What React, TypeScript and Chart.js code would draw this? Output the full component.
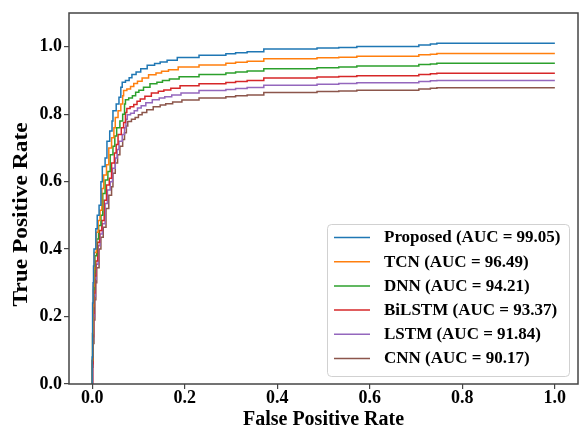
import React, { useEffect, useRef } from 'react';
import { Chart, registerables } from 'chart.js';

Chart.register(...registerables);

const seriesLabels = [
  'Proposed (AUC = 99.05)',
  'TCN (AUC = 96.49)',
  'DNN (AUC = 94.21)',
  'BiLSTM (AUC = 93.37)',
  'LSTM (AUC = 91.84)',
  'CNN (AUC = 90.17)',
];

const seriesColors = ['#1f77b4', '#ff7f0e', '#2ca02c', '#d62728', '#9467bd', '#8c564b'];

const xTicks = [0, 0.2, 0.4, 0.6, 0.8, 1.0];
const yTicks = [0, 0.2, 0.4, 0.6, 0.8, 1.0];

// [FPR, TPR] corner points of each ROC staircase
const proposed: number[][] = [
  [0, 0], [0.0, 0.08], [0.001, 0.16], [0.001, 0.24], [0.002, 0.3], [0.003, 0.35], [0.004, 0.4],
  [0.008, 0.46], [0.011, 0.5], [0.015, 0.53], [0.019, 0.6], [0.022, 0.645], [0.028, 0.67],
  [0.032, 0.72], [0.038, 0.75], [0.043, 0.78], [0.045, 0.81], [0.052, 0.83], [0.058, 0.85],
  [0.062, 0.88], [0.065, 0.895], [0.072, 0.9], [0.08, 0.908], [0.086, 0.918], [0.095, 0.925],
  [0.105, 0.935], [0.119, 0.945], [0.135, 0.95], [0.147, 0.955], [0.162, 0.96], [0.184, 0.968],
  [0.231, 0.975], [0.289, 0.979], [0.31, 0.982], [0.335, 0.985], [0.371, 0.993], [0.486, 0.996],
  [0.533, 0.998], [0.572, 1.001], [0.706, 1.005], [0.731, 1.008], [0.745, 1.01], [1.0, 1.01],
];

const tcn: number[][] = [
  [0, 0], [0.0, 0.07], [0.001, 0.15], [0.002, 0.23], [0.003, 0.29], [0.004, 0.34], [0.005, 0.39],
  [0.009, 0.45], [0.013, 0.485], [0.017, 0.515], [0.021, 0.58], [0.025, 0.62], [0.031, 0.65],
  [0.036, 0.7], [0.042, 0.73], [0.047, 0.76], [0.05, 0.79], [0.056, 0.81], [0.062, 0.83],
  [0.066, 0.855], [0.068, 0.87], [0.075, 0.875], [0.083, 0.882], [0.09, 0.891], [0.098, 0.898],
  [0.108, 0.907], [0.122, 0.917], [0.138, 0.922], [0.15, 0.927], [0.165, 0.932], [0.186, 0.94],
  [0.231, 0.946], [0.289, 0.951], [0.31, 0.954], [0.335, 0.957], [0.371, 0.964], [0.486, 0.967],
  [0.533, 0.969], [0.572, 0.972], [0.706, 0.976], [0.731, 0.978], [0.745, 0.98], [1.0, 0.98],
];

const dnn: number[][] = [
  [0, 0], [0.0, 0.07], [0.001, 0.15], [0.002, 0.22], [0.003, 0.28], [0.005, 0.33], [0.006, 0.38],
  [0.01, 0.43], [0.014, 0.47], [0.019, 0.5], [0.023, 0.565], [0.028, 0.605], [0.034, 0.63],
  [0.039, 0.68], [0.045, 0.705], [0.049, 0.735], [0.053, 0.76], [0.06, 0.78], [0.066, 0.8],
  [0.07, 0.83], [0.072, 0.843], [0.079, 0.848], [0.087, 0.855], [0.094, 0.865], [0.101, 0.871],
  [0.111, 0.88], [0.125, 0.89], [0.14, 0.895], [0.152, 0.9], [0.167, 0.904], [0.188, 0.911],
  [0.231, 0.918], [0.289, 0.922], [0.31, 0.925], [0.335, 0.928], [0.371, 0.935], [0.486, 0.938],
  [0.533, 0.94], [0.572, 0.943], [0.706, 0.947], [0.731, 0.949], [0.745, 0.951], [1.0, 0.951],
];

const bilstm: number[][] = [
  [0, 0], [0.001, 0.06], [0.002, 0.14], [0.003, 0.21], [0.004, 0.27], [0.006, 0.32], [0.008, 0.365],
  [0.012, 0.42], [0.016, 0.455], [0.021, 0.485], [0.026, 0.545], [0.031, 0.59], [0.037, 0.61],
  [0.042, 0.655], [0.048, 0.685], [0.052, 0.71], [0.056, 0.74], [0.063, 0.76], [0.068, 0.775],
  [0.072, 0.805], [0.075, 0.817], [0.082, 0.822], [0.09, 0.829], [0.097, 0.838], [0.104, 0.845],
  [0.114, 0.853], [0.128, 0.863], [0.143, 0.868], [0.155, 0.872], [0.17, 0.877], [0.19, 0.884],
  [0.231, 0.89], [0.289, 0.894], [0.31, 0.897], [0.335, 0.9], [0.371, 0.907], [0.486, 0.91],
  [0.533, 0.912], [0.572, 0.914], [0.706, 0.918], [0.731, 0.92], [0.745, 0.921], [1.0, 0.921],
];

const lstm: number[][] = [
  [0, 0], [0.001, 0.06], [0.002, 0.13], [0.003, 0.2], [0.005, 0.26], [0.007, 0.31], [0.009, 0.355],
  [0.013, 0.41], [0.017, 0.445], [0.022, 0.475], [0.028, 0.535], [0.033, 0.575], [0.039, 0.6],
  [0.044, 0.64], [0.05, 0.67], [0.054, 0.695], [0.058, 0.72], [0.065, 0.74], [0.07, 0.76],
  [0.073, 0.785], [0.076, 0.798], [0.083, 0.803], [0.091, 0.81], [0.098, 0.818], [0.106, 0.825],
  [0.116, 0.834], [0.13, 0.843], [0.145, 0.848], [0.157, 0.852], [0.172, 0.857], [0.192, 0.863],
  [0.231, 0.87], [0.289, 0.873], [0.31, 0.876], [0.335, 0.879], [0.371, 0.886], [0.486, 0.889],
  [0.533, 0.891], [0.572, 0.893], [0.706, 0.897], [0.731, 0.899], [0.745, 0.9], [1.0, 0.9],
];

const cnn: number[][] = [
  [0, 0], [0.001, 0.05], [0.002, 0.12], [0.004, 0.19], [0.006, 0.25], [0.008, 0.3], [0.01, 0.345],
  [0.015, 0.4], [0.019, 0.435], [0.024, 0.465], [0.03, 0.52], [0.036, 0.56], [0.042, 0.585],
  [0.045, 0.625], [0.05, 0.655], [0.055, 0.68], [0.06, 0.705], [0.066, 0.725], [0.07, 0.745],
  [0.074, 0.765], [0.077, 0.778], [0.085, 0.785], [0.093, 0.79], [0.1, 0.798], [0.108, 0.805],
  [0.118, 0.813], [0.132, 0.822], [0.147, 0.827], [0.159, 0.831], [0.174, 0.836], [0.194, 0.842],
  [0.231, 0.848], [0.289, 0.852], [0.31, 0.855], [0.335, 0.857], [0.371, 0.864], [0.486, 0.867],
  [0.533, 0.869], [0.572, 0.871], [0.706, 0.875], [0.731, 0.877], [0.745, 0.878], [1.0, 0.878],
];

const allSeries = [proposed, tcn, dnn, bilstm, lstm, cnn];

const xTitle = 'False Positive Rate';
const yTitle = 'True Positive Rate';

const FONT = '"Liberation Serif", "Times New Roman", serif';

const decorPlugin = {
  id: 'decor',
  afterDraw(chart: any) {
    const { ctx, chartArea } = chart;
    const { left, right, top, bottom } = chartArea;
    ctx.save();
    // frame
    ctx.strokeStyle = '#444';
    ctx.lineWidth = 1.5;
    ctx.strokeRect(left, top, right - left, bottom - top);

    // axis titles
    ctx.fillStyle = '#000';
    ctx.font = `bold 20px ${FONT}`;
    ctx.textAlign = 'center';
    ctx.textBaseline = 'middle';
    ctx.fillText(xTitle, (left + right) / 2, bottom + 36);
    ctx.save();
    ctx.translate(left - 47.5, (top + bottom) / 2 + 16);
    ctx.rotate(-Math.PI / 2);
    ctx.scale(1.17, 1);
    ctx.fillText(yTitle, 0, 0);
    ctx.restore();

    // legend
    const lw = 242;
    const lh = 152;
    const lx = right - 9 - lw;
    const ly = bottom - 8 - lh;
    ctx.beginPath();
    (ctx as any).roundRect(lx + 0.5, ly + 0.5, lw, lh, 4);
    ctx.fillStyle = 'rgba(255,255,255,0.8)';
    ctx.fill();
    ctx.strokeStyle = 'rgba(204,204,204,0.9)';
    ctx.lineWidth = 1;
    ctx.stroke();

    ctx.font = `bold 17px ${FONT}`;
    ctx.textAlign = 'left';
    ctx.textBaseline = 'middle';
    chart.data.datasets.forEach((ds: any, i: number) => {
      const cy = ly + 13.5 + i * 24.2;
      ctx.strokeStyle = ds.borderColor;
      ctx.lineWidth = 1.5;
      ctx.beginPath();
      ctx.moveTo(lx + 7, cy);
      ctx.lineTo(lx + 43, cy);
      ctx.stroke();
      ctx.fillStyle = '#000';
      ctx.fillText(ds.label, lx + 57, cy + 0.5);
    });
    ctx.restore();
  },
};

export default function App() {
  const ref = useRef<HTMLCanvasElement>(null);
  useEffect(() => {
    document.body.style.margin = '0';
    const tickFont = { family: FONT, size: 18, weight: 'bold' as const, lineHeight: 1 };
    const chart = new Chart(ref.current!, {
      type: 'line',
      data: {
        datasets: allSeries.map((s, i) => ({
          label: seriesLabels[i],
          data: s.map(([x, y]) => ({ x, y })),
          borderColor: seriesColors[i],
          backgroundColor: seriesColors[i],
          borderWidth: 1.5,
          pointRadius: 0,
          stepped: 'before' as const,
          fill: false,
          tension: 0,
        })),
      },
      options: {
        animation: false,
        responsive: false,
        devicePixelRatio: 1,
        events: [],
        layout: { padding: { top: 13, right: 2, left: 0, bottom: 0 } },
        plugins: { legend: { display: false }, tooltip: { enabled: false } },
        scales: {
          x: {
            type: 'linear',
            min: -0.05,
            max: 1.05,
            afterBuildTicks: (s: any) => {
              s.ticks = xTicks.map((v) => ({ value: v }));
            },
            afterFit: (s: any) => {
              s.height = 44;
            },
            grid: { drawOnChartArea: false, drawTicks: true, tickLength: 5, color: '#444', lineWidth: 1.2 },
            border: { display: false },
            ticks: {
              font: tickFont,
              color: '#000',
              padding: 0,
              maxRotation: 0,
              autoSkip: false,
              callback: (v: any) => Number(v).toFixed(1),
            },
          },
          y: {
            type: 'linear',
            min: 0,
            max: 1.1,
            afterBuildTicks: (s: any) => {
              s.ticks = yTicks.map((v) => ({ value: v }));
            },
            afterFit: (s: any) => {
              s.width = 69;
            },
            grid: { drawOnChartArea: false, drawTicks: true, tickLength: 5, color: '#444', lineWidth: 1.2 },
            border: { display: false },
            ticks: {
              font: tickFont,
              color: '#000',
              padding: 2,
              autoSkip: false,
              callback: (v: any) => Number(v).toFixed(1),
            },
          },
        },
      },
      plugins: [decorPlugin],
    });
    return () => chart.destroy();
  }, []);
  return <canvas ref={ref} width={580} height={428} style={{ display: 'block' }} />;
}
